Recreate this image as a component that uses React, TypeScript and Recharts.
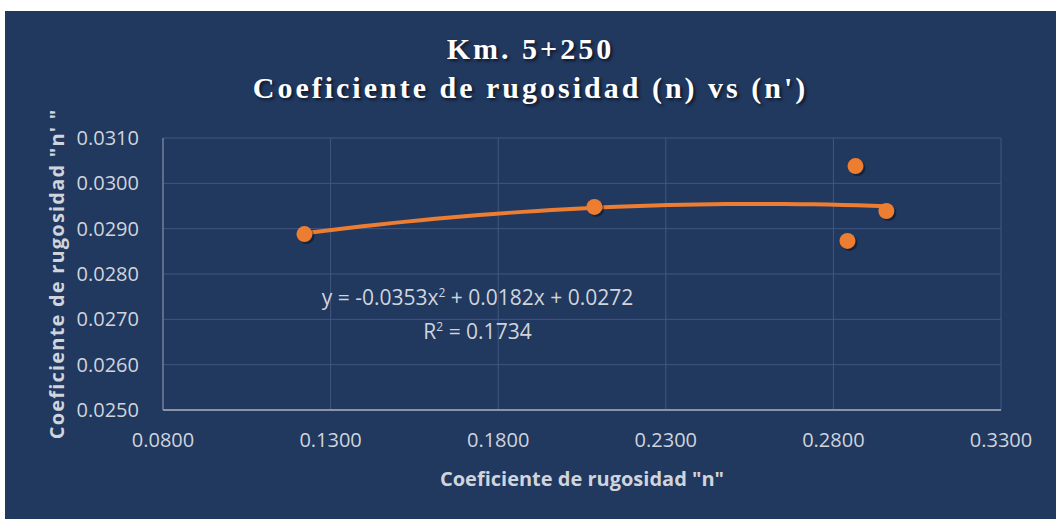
import { ScatterChart, Scatter, XAxis, YAxis, CartesianGrid, Label } from "recharts";

// measured points (n, n')
const nValues = [0.1222, 0.2087, 0.2866, 0.2842, 0.2958];
const nPrimeValues = [0.02888, 0.02948, 0.03038, 0.02873, 0.02939];

// polynomial trend shown on the chart: y = a x^2 + b x + c
const trendCoefs = [-0.0353, 0.0182, 0.0272];
const r2 = 0.1734;

const xTicks = [0.08, 0.13, 0.18, 0.23, 0.28, 0.33];
const yTicks = [0.025, 0.026, 0.027, 0.028, 0.029, 0.03, 0.031];

const points = nValues.map((x, i) => ({ x, y: nPrimeValues[i] }));

const xMin = Math.min(...nValues);
const xMax = Math.max(...nValues);
const trend = Array.from({ length: 41 }, (_, i) => {
  const x = xMin + ((xMax - xMin) * i) / 40;
  return { x, y: trendCoefs[0] * x * x + trendCoefs[1] * x + trendCoefs[2] };
});

const BG = "#21385F";
const ORANGE = "#ED7D31";
const TXT = "#D0D4DC";
const FONT = "'Open Sans', sans-serif";

const Dot = (props: any) => {
  const { cx, cy } = props;
  return (
    <g>
      <circle cx={cx + 2} cy={cy + 2} r={8} fill="rgba(0,0,0,0.35)" />
      <circle cx={cx} cy={cy} r={8} fill={ORANGE} />
    </g>
  );
};

export default function App() {
  return (
    <div
      style={{
        position: "absolute",
        left: 5,
        top: 11,
        width: 1051,
        height: 508,
        background: BG,
        fontFamily: FONT,
      }}
    >
      <div
        style={{
          position: "absolute",
          left: 0,
          right: 0,
          top: 18,
          textAlign: "center",
          color: "#fff",
          fontFamily: "'Liberation Serif', serif",
          fontWeight: 700,
          fontSize: 30,
          letterSpacing: 3,
          lineHeight: "39px",
          textShadow: "2px 2px 3px rgba(0,0,0,0.6)",
        }}
      >
        <div>Km. 5+250</div>
        <div>Coeficiente de rugosidad (n) vs (n')</div>
      </div>
      <ScatterChart
        width={1051}
        height={508}
        margin={{ top: 127, right: 55, bottom: 0, left: 0 }}
      >
        <CartesianGrid stroke="#415780" strokeWidth={1} />
        <XAxis
          type="number"
          dataKey="x"
          domain={[0.08, 0.33]}
          ticks={xTicks}
          tickFormatter={(v: number) => v.toFixed(4)}
          tick={{ fill: TXT, fontSize: 20, fontFamily: FONT }}
          tickLine={false}
          axisLine={{ stroke: "#8A94A6", strokeWidth: 2 }}
          tickMargin={17}
          height={109}
          allowDataOverflow
        >
          <Label
            value={'Coeficiente de rugosidad "n"'}
            position="insideBottom"
            offset={33}
            fill={TXT}
            fontSize={20}
            fontWeight={700}
            fontFamily={FONT}
          />
        </XAxis>
        <YAxis
          type="number"
          dataKey="y"
          domain={[0.025, 0.031]}
          ticks={yTicks}
          tickFormatter={(v: number) => v.toFixed(4)}
          tick={{ fill: TXT, fontSize: 20, fontFamily: FONT }}
          tickLine={false}
          axisLine={{ stroke: "#8A94A6", strokeWidth: 1 }}
          tickMargin={18}
          width={158}
          allowDataOverflow
        >
          <Label
            value={'Coeficiente de rugosidad "n\' "'}
            angle={-90}
            position="insideLeft"
            offset={52}
            fill={TXT}
            fontSize={20}
            fontWeight={700}
            fontFamily={FONT}
            letterSpacing={1.2}
            style={{ textAnchor: "middle" }}
          />
        </YAxis>
        <Scatter
          data={trend}
          line={{ stroke: ORANGE, strokeWidth: 4 }}
          lineType="joint"
          shape={() => null}
          isAnimationActive={false}
        />
        <Scatter data={points} fill={ORANGE} shape={Dot} isAnimationActive={false} />
      </ScatterChart>
      <div
        style={{
          position: "absolute",
          left: 240,
          width: 465,
          top: 267,
          textAlign: "center",
          color: TXT,
          fontSize: 21,
          lineHeight: "29px",
        }}
      >
        <div>
          y = -0.0353x<sup style={{ fontSize: 12 }}>2</sup> + 0.0182x + 0.0272
        </div>
        <div>
          R<sup style={{ fontSize: 12 }}>2</sup> = {r2.toFixed(4)}
        </div>
      </div>
    </div>
  );
}
